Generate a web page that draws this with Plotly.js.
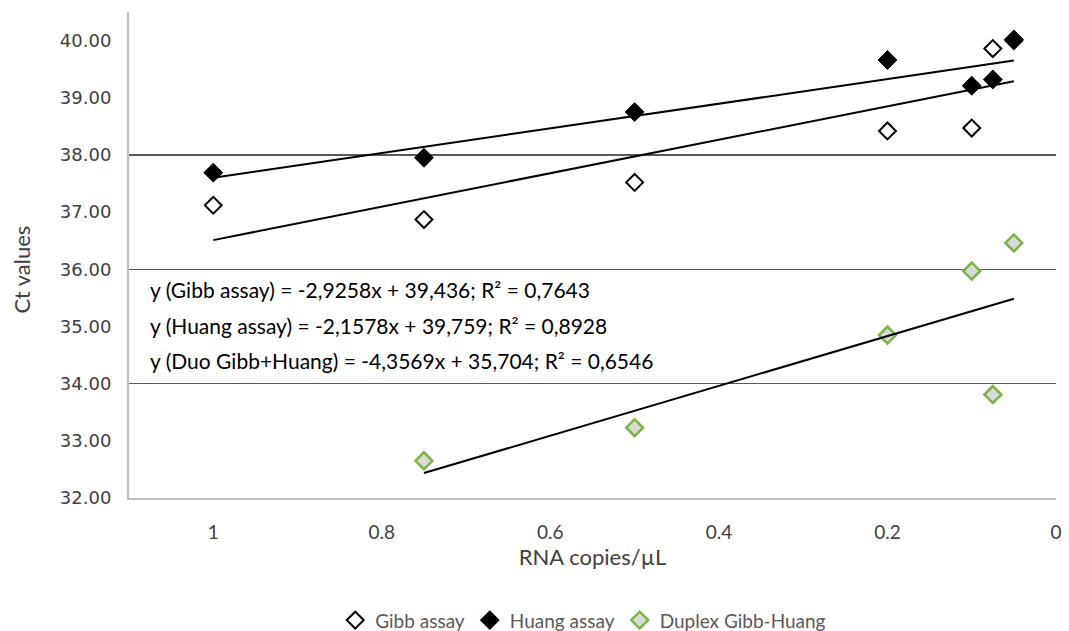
<!DOCTYPE html>
<html>
<head>
<meta charset="utf-8">
<script src="https://cdn.plot.ly/plotly-3.0.1.min.js"></script>
<style>html,body{margin:0;padding:0;background:#fff;}#chart{width:1069px;height:631px;}</style>
</head>
<body>
<div id="chart"></div>
<script>
// ---- data ----
const seriesNames = ["Gibb assay", "Huang assay", "Duplex Gibb-Huang"];
const xGibb = [1, 0.75, 0.5, 0.2, 0.1, 0.075, 0.05];
const yGibb = [37.12, 36.87, 37.52, 38.42, 38.47, 39.86, 40.0];
const xHuang = [1, 0.75, 0.5, 0.2, 0.1, 0.075, 0.05];
const yHuang = [37.69, 37.95, 38.75, 39.66, 39.21, 39.32, 40.02];
const xDuplex = [0.75, 0.5, 0.2, 0.1, 0.075, 0.05];
const yDuplex = [32.65, 33.23, 34.85, 35.97, 33.81, 36.46];
// trendline equations as printed on the chart
const fitLabels = ["Gibb assay", "Huang assay", "Duo Gibb+Huang"];
const fitSlopes = [-2.9258, -2.1578, -4.3569];
const fitIntercepts = [39.436, 39.759, 35.704];
const fitR2 = [0.7643, 0.8928, 0.6546];
const xTickVals = [1, 0.8, 0.6, 0.4, 0.2, 0];
const xTickText = ["1", "0.8", "0.6", "0.4", "0.2", "0"];
const yTickVals = [32, 33, 34, 35, 36, 37, 38, 39, 40];
const yTickText = ["32.00", "33.00", "34.00", "35.00", "36.00", "37.00", "38.00", "39.00", "40.00"];
const gridVals = [34, 36, 38];
const xTitle = "RNA copies/µL";
const yTitle = "Ct values";

const xsAll = [xGibb, xHuang, xDuplex];
const ysAll = [yGibb, yHuang, yDuplex];
const fmt = (v, d) => v.toFixed(d).replace('.', ',');

const markerStyles = [
  {symbol: 'diamond', size: 13, color: '#ffffff', line: {color: '#000000', width: 2}},
  {symbol: 'diamond', size: 14.5, color: '#000000', line: {color: '#000000', width: 1}},
  {symbol: 'diamond', size: 13, color: '#d9d9d9', line: {color: '#7cb342', width: 2.5}}
];

const traces = [];
for (let i = 0; i < 3; i++) {
  traces.push({
    type: 'scatter', mode: 'markers', name: seriesNames[i],
    x: xsAll[i], y: ysAll[i], marker: markerStyles[i], xaxis: 'x', yaxis: 'y'
  });
}
for (let i = 0; i < 3; i++) {
  const xmin = Math.min(...xsAll[i]), xmax = Math.max(...xsAll[i]);
  const lx = [xmax, xmin];
  const ly = lx.map(v => fitSlopes[i] * v + fitIntercepts[i]);
  traces.push({
    type: 'scatter', mode: 'lines', x: lx, y: ly, showlegend: false,
    line: {color: '#000000', width: 2}, hoverinfo: 'skip', xaxis: 'x', yaxis: 'y'
  });
}
// invisible trace to activate the grid axis
traces.push({type: 'scatter', mode: 'markers', x: [0.5], y: [36], xaxis: 'x', yaxis: 'y2',
  marker: {opacity: 0}, showlegend: false, hoverinfo: 'skip'});

const eqY = [35.655, 35.025, 34.41];
const annotations = fitLabels.map((lab, i) => ({
  xref: 'paper', yref: 'y', x: 0.0205, y: eqY[i], xanchor: 'left', yanchor: 'middle',
  showarrow: false,
  text: 'y (' + lab + ') = ' + (fitSlopes[i] < 0 ? '-' : '') + fmt(Math.abs(fitSlopes[i]), 4) + 'x + ' +
        fmt(fitIntercepts[i], 3) + '; R² = ' + fmt(fitR2[i], 4),
  font: {family: 'Lato, sans-serif', size: 21, color: '#000000'}
}));
annotations.push({
  xref: 'paper', yref: 'paper', x: -0.1154, y: 0.47, xanchor: 'center', yanchor: 'middle',
  textangle: -90, showarrow: false, text: yTitle,
  font: {family: 'Lato, sans-serif', size: 22, color: '#404040'}
});

const yRange = [32, 40.5];
const layout = {
  width: 1069, height: 631,
  margin: {l: 129, r: 13, t: 12, b: 133, autoexpand: false},
  paper_bgcolor: '#ffffff', plot_bgcolor: 'rgba(0,0,0,0)',
  showlegend: true,
  legend: {orientation: 'h', x: 0.49, xanchor: 'center', yref: 'container', y: 0.017, yanchor: 'middle',
    font: {family: 'Lato, sans-serif', size: 19, color: '#595959'}, itemwidth: 30,
    traceorder: 'normal'},
  xaxis: {
    range: [1.1, 0], tickvals: xTickVals, ticktext: xTickText,
    showgrid: false, zeroline: false, showline: true, linecolor: '#bfbfbf', linewidth: 2,
    ticks: 'outside', ticklen: 16, tickcolor: 'rgba(0,0,0,0)',
    tickfont: {family: 'Lato, sans-serif', size: 19, color: '#404040'},
    title: {text: xTitle, font: {family: 'Lato, sans-serif', size: 22, color: '#404040'}, standoff: 4}
  },
  yaxis: {
    range: yRange, tickvals: yTickVals, ticktext: yTickText,
    showgrid: false, zeroline: false, showline: true, linecolor: '#bfbfbf', linewidth: 2,
    ticks: 'outside', ticklen: 12, tickcolor: 'rgba(0,0,0,0)',
    tickfont: {family: 'DejaVu Sans, sans-serif', size: 18, color: '#404040'}
  },
  yaxis2: {
    overlaying: 'y', range: yRange, tickvals: gridVals, showticklabels: false,
    showgrid: true, gridcolor: '#595959', gridwidth: 1.5, zeroline: false, showline: false, ticks: ''
  },
  annotations: annotations
};
Plotly.newPlot('chart', traces, layout, {staticPlot: true, displayModeBar: false});
</script>
</body>
</html>
